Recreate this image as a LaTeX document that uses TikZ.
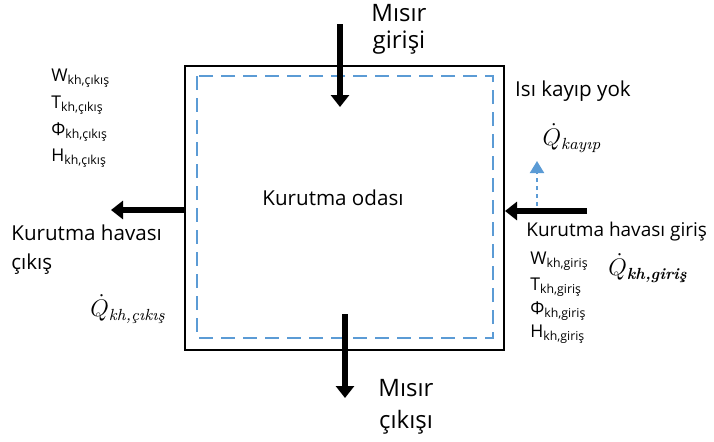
\documentclass[tikz,border=0pt]{standalone}
\usepackage{fontspec}
\setmainfont{Open Sans}
\newfontfamily\qfont{Latin Modern Roman}
\usetikzlibrary{arrows.meta}

\definecolor{dashblue}{RGB}{91,155,213}

% small helpers for the labels
\newcommand{\varsub}[2]{#1\textsubscript{#2}}
\newcommand{\qflow}[1]{$\dot{Q}$\textsubscript{\qfont\itshape #1}}

\tikzset{
  flowarrow/.style={line width=2.8pt, -{Triangle[width=9pt,length=6pt]}},
  lbl/.style={font=\fontsize{10.3}{12}\selectfont, inner sep=0pt},
  biglbl/.style={font=\fontsize{12}{14}\selectfont, inner sep=0pt},
  varlbl/.style={font=\fontsize{8.8}{10}\selectfont, inner sep=0pt, anchor=west},
  qlbl/.style={font=\fontsize{11.5}{13}\selectfont, inner sep=0pt}
}

\begin{document}
\begin{tikzpicture}[x=0.5pt, y=-0.5pt]

    \useasboundingbox (0,0) rectangle (714,441);

    % Drying chamber: outer wall and inner dashed line
    \draw[line width=1pt] (185,66) rectangle (504,350);
    \draw[dashblue, line width=1pt, dash pattern=on 7pt off 4pt] (197,76) rectangle (493,338);

    \node[lbl] (oda) at (333,198) {Kurutma odası};

    % Corn in (top) and corn out (bottom)
    \coordinate (cornInStart) at (340,24);
    \coordinate (cornInEnd) at (340,107);
    \draw[flowarrow] (cornInStart) -- (cornInEnd);
    \node[biglbl] (cornIn1) at (399,13) {Mısır};
    \node[biglbl] (cornIn2) at (399,43) {girişi};

    \coordinate (cornOutStart) at (345,314);
    \coordinate (cornOutEnd) at (345,398);
    \draw[flowarrow] (cornOutStart) -- (cornOutEnd);
    \node[biglbl] (cornOut1) at (406,388) {Mısır};
    \node[biglbl] (cornOut2) at (406,422) {çıkışı};

    % Drying air out (left side)
    \coordinate (airOutStart) at (186,210);
    \coordinate (airOutEnd) at (111,210);
    \draw[flowarrow] (airOutStart) -- (airOutEnd);
    \node[lbl, anchor=west] (airOut1) at (11,233) {Kurutma havası};
    \node[lbl, anchor=west] (airOut2) at (11,264) {çıkış};
    \node[qlbl] (qOut) at (128,309) {\qflow{kh,çıkış}};

    \node[varlbl] (wOut) at (51,78) {\varsub{W}{kh,çıkış}};
    \node[varlbl] (tOut) at (51,105) {\varsub{T}{kh,çıkış}};
    \node[varlbl] (phiOut) at (51,132) {\varsub{Φ}{kh,çıkış}};
    \node[varlbl] (hOut) at (51,158) {\varsub{H}{kh,çıkış}};

    % Drying air in (right side)
    \coordinate (airInStart) at (587,211);
    \coordinate (airInEnd) at (505,211);
    \draw[flowarrow] (airInStart) -- (airInEnd);
    \node[lbl, font=\fontsize{9.5}{11}\selectfont, anchor=west] (airIn) at (526,232) {Kurutma havası giriş};
    \node[qlbl] (qIn) at (648,268) {$\dot{Q}$\textsubscript{\qfont\bfseries\itshape kh,giriş}};

    \node[varlbl] (wIn) at (530,261) {\varsub{W}{kh,giriş}};
    \node[varlbl] (tIn) at (530,287) {\varsub{T}{kh,giriş}};
    \node[varlbl] (phiIn) at (530,311) {\varsub{Φ}{kh,giriş}};
    \node[varlbl] (hIn) at (530,334) {\varsub{H}{kh,giriş}};

    % Heat loss (none)
    \node[lbl] (noLoss) at (573,91) {Isı kayıp yok};
    \node[qlbl] (qLoss) at (572,138) {\qflow{kayıp}};
    \coordinate (lossStart) at (537,206);
    \coordinate (lossEnd) at (537,161);
    \draw[dashblue, line width=1pt, dash pattern=on 2pt off 2pt,
          -{Triangle[width=7pt,length=6pt]}] (lossStart) -- (lossEnd);

\end{tikzpicture}
\end{document}
